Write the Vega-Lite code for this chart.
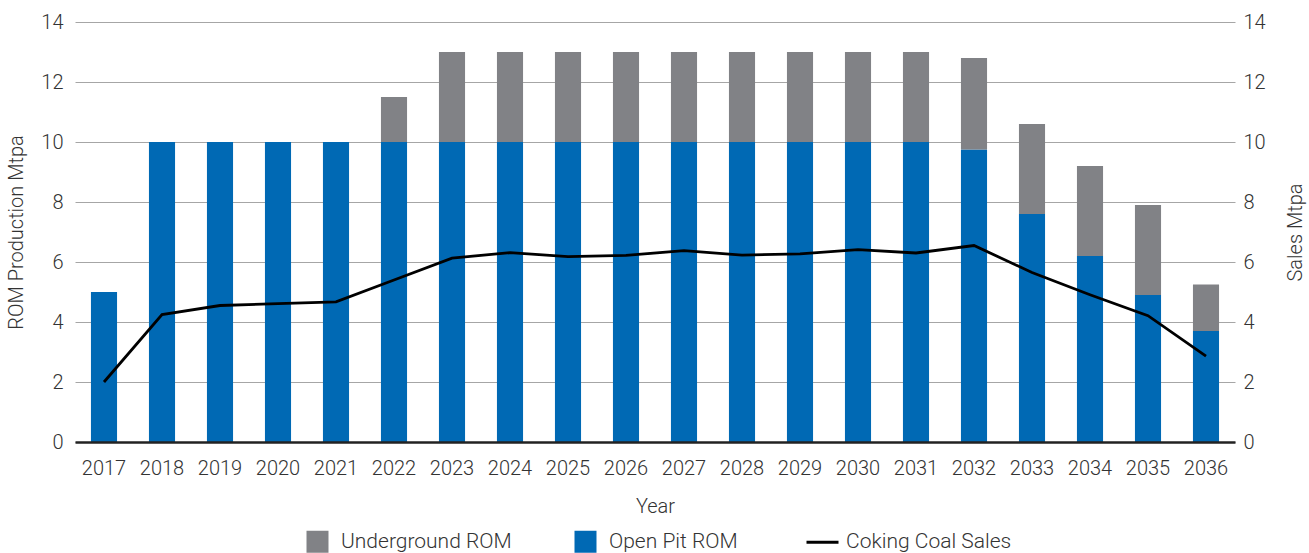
{
  "$schema": "https://vega.github.io/schema/vega-lite/v6.json",
  "autosize": {"type": "none"},
  "padding": {"left": 75, "top": 22, "right": 74, "bottom": 111},
  "width": 1160,
  "height": 420,
  "background": "white",
  "datasets": {
    "rom": [
      {"year": "2017", "series": "Open Pit ROM", "value": 5},
      {"year": "2018", "series": "Open Pit ROM", "value": 10},
      {"year": "2019", "series": "Open Pit ROM", "value": 10},
      {"year": "2020", "series": "Open Pit ROM", "value": 10},
      {"year": "2021", "series": "Open Pit ROM", "value": 10},
      {"year": "2022", "series": "Open Pit ROM", "value": 10},
      {"year": "2022", "series": "Underground ROM", "value": 1.5},
      {"year": "2023", "series": "Open Pit ROM", "value": 10},
      {"year": "2023", "series": "Underground ROM", "value": 3},
      {"year": "2024", "series": "Open Pit ROM", "value": 10},
      {"year": "2024", "series": "Underground ROM", "value": 3},
      {"year": "2025", "series": "Open Pit ROM", "value": 10},
      {"year": "2025", "series": "Underground ROM", "value": 3},
      {"year": "2026", "series": "Open Pit ROM", "value": 10},
      {"year": "2026", "series": "Underground ROM", "value": 3},
      {"year": "2027", "series": "Open Pit ROM", "value": 10},
      {"year": "2027", "series": "Underground ROM", "value": 3},
      {"year": "2028", "series": "Open Pit ROM", "value": 10},
      {"year": "2028", "series": "Underground ROM", "value": 3},
      {"year": "2029", "series": "Open Pit ROM", "value": 10},
      {"year": "2029", "series": "Underground ROM", "value": 3},
      {"year": "2030", "series": "Open Pit ROM", "value": 10},
      {"year": "2030", "series": "Underground ROM", "value": 3},
      {"year": "2031", "series": "Open Pit ROM", "value": 10},
      {"year": "2031", "series": "Underground ROM", "value": 3},
      {"year": "2032", "series": "Open Pit ROM", "value": 9.75},
      {"year": "2032", "series": "Underground ROM", "value": 3.05},
      {"year": "2033", "series": "Open Pit ROM", "value": 7.6},
      {"year": "2033", "series": "Underground ROM", "value": 3.0},
      {"year": "2034", "series": "Open Pit ROM", "value": 6.2},
      {"year": "2034", "series": "Underground ROM", "value": 3.0},
      {"year": "2035", "series": "Open Pit ROM", "value": 4.9},
      {"year": "2035", "series": "Underground ROM", "value": 3.0},
      {"year": "2036", "series": "Open Pit ROM", "value": 3.7},
      {"year": "2036", "series": "Underground ROM", "value": 1.55}
    ],
    "sales": [
      {"year": "2017", "sales": 2.0},
      {"year": "2018", "sales": 4.25},
      {"year": "2019", "sales": 4.55},
      {"year": "2020", "sales": 4.61},
      {"year": "2021", "sales": 4.67},
      {"year": "2022", "sales": 5.4},
      {"year": "2023", "sales": 6.13},
      {"year": "2024", "sales": 6.31},
      {"year": "2025", "sales": 6.18},
      {"year": "2026", "sales": 6.22},
      {"year": "2027", "sales": 6.38},
      {"year": "2028", "sales": 6.23},
      {"year": "2029", "sales": 6.27},
      {"year": "2030", "sales": 6.41},
      {"year": "2031", "sales": 6.3},
      {"year": "2032", "sales": 6.55},
      {"year": "2033", "sales": 5.65},
      {"year": "2034", "sales": 4.91},
      {"year": "2035", "sales": 4.21},
      {"year": "2036", "sales": 2.86}
    ]
  },
  "config": {
    "view": {"stroke": null},
    "font": "Roboto",
    "axis": {
      "labelFont": "Roboto",
      "titleFont": "Roboto",
      "labelFontSize": 20,
      "titleFontSize": 20,
      "labelFontWeight": 300,
      "titleFontWeight": 300,
      "labelColor": "#333333",
      "titleColor": "#333333",
      "ticks": false
    },
    "legend": {
      "labelFont": "Roboto",
      "labelFontSize": 21,
      "labelFontWeight": 300,
      "labelColor": "#333333",
      "labelLimit": 0
    }
  },
  "encoding": {
    "x": {
      "field": "year",
      "type": "ordinal",
      "scale": {"paddingInner": 0.55, "paddingOuter": 0.275},
      "axis": {
        "title": "Year",
        "labelAngle": 0,
        "labelPadding": 16,
        "titlePadding": 18,
        "domain": true,
        "domainColor": "#222222",
        "domainWidth": 2.5,
        "grid": false,
        "zindex": 1
      }
    }
  },
  "layer": [
    {
      "data": {"name": "rom"},
      "mark": {"type": "bar"},
      "encoding": {
        "y": {
          "field": "value",
          "type": "quantitative",
          "stack": "zero",
          "scale": {"domain": [0, 14], "nice": false},
          "axis": {
            "title": "ROM Production Mtpa",
            "orient": "left",
            "values": [0, 2, 4, 6, 8, 10, 12, 14],
            "grid": true,
            "gridColor": "#a6a6a6",
            "gridWidth": 1,
            "domain": false,
            "labelPadding": 12,
            "titlePadding": 14
          }
        },
        "order": {"field": "series", "sort": "ascending"},
        "color": {
          "field": "series",
          "type": "nominal",
          "scale": {
            "domain": ["Underground ROM", "Open Pit ROM", "Coking Coal Sales"],
            "range": ["#818286", "#0069b4", "#000000"]
          },
          "legend": {
            "title": null,
            "orient": "none",
            "legendX": 232,
            "legendY": 509,
            "direction": "horizontal",
            "symbolSize": 484,
            "labelOffset": 13,
            "columnPadding": 62,
            "encode": {
              "symbols": {
                "update": {
                  "shape": {"signal": "datum.value === 'Coking Coal Sales' ? 'stroke' : 'square'"},
                  "fill": {"signal": "datum.value === 'Coking Coal Sales' ? 'transparent' : scale('color', datum.value)"},
                  "stroke": {"signal": "scale('color', datum.value)"},
                  "strokeWidth": {"signal": "datum.value === 'Coking Coal Sales' ? 3 : 0"},
                  "size": {"signal": "datum.value === 'Coking Coal Sales' ? 1024 : 484"},
                  "opacity": {"value": 1},
                  "fillOpacity": {"value": 1}
                }
              }
            }
          }
        }
      }
    },
    {
      "data": {"name": "sales"},
      "mark": {"type": "line", "color": "#000000", "strokeWidth": 2.8},
      "encoding": {
        "y": {
          "field": "sales",
          "type": "quantitative",
          "scale": {"domain": [0, 14], "nice": false},
          "axis": {
            "title": "Sales Mtpa",
            "orient": "right",
            "values": [0, 2, 4, 6, 8, 10, 12, 14],
            "grid": false,
            "domain": false,
            "labelPadding": 8,
            "titlePadding": 40,
            "titleAngle": 270
          }
        },
        "color": {"datum": "Coking Coal Sales"}
      }
    }
  ],
  "resolve": {"scale": {"y": "independent"}}
}
